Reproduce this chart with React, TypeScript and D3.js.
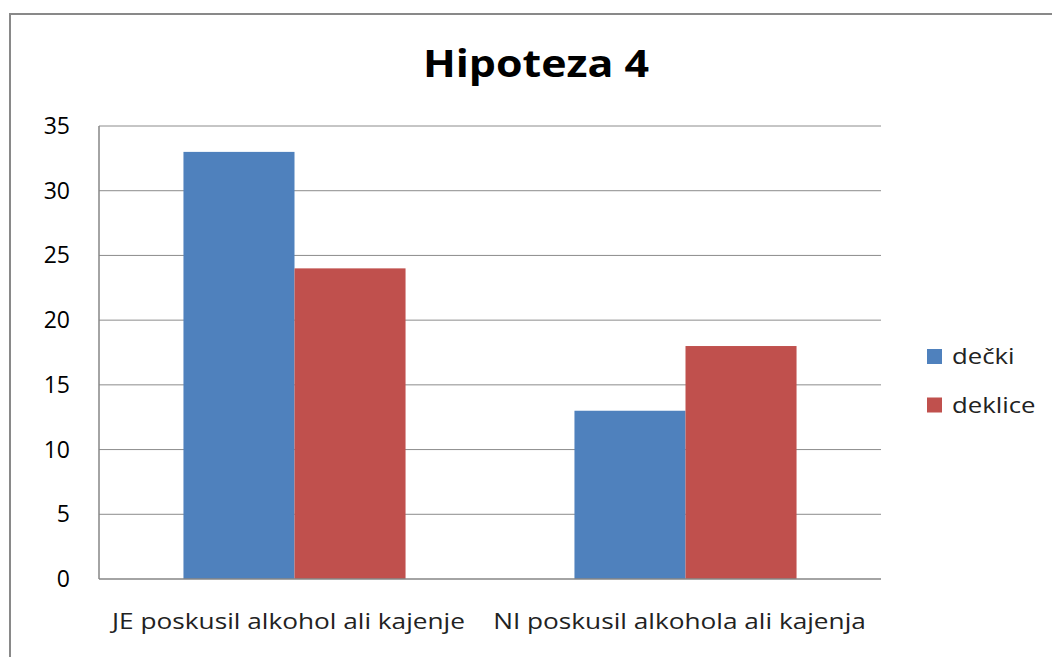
import { useEffect } from 'react'
import * as d3 from 'd3'

const categories = ['JE poskusil alkohol ali kajenje', 'NI poskusil alkohola ali kajenja']
const seriesNames = ['dečki', 'deklice']
const decki = [33, 13]
const deklice = [24, 18]
const yTicks = [0, 5, 10, 15, 20, 25, 30, 35]

const COLORS = ['#4F81BD', '#C0504D']
const FONT = '"Open Sans", sans-serif'

export default function App() {
  const width = 1052
  const height = 657
  const plot = { left: 99, right: 881, top: 126, bottom: 579 }

  useEffect(() => {
    document.body.style.margin = '0'
  }, [])

  const x0 = d3.scaleBand<string>().domain(categories).range([plot.left, plot.right]).padding(0)
  const gap = x0.bandwidth() * 0.216
  const x1 = d3
    .scaleBand<string>()
    .domain(seriesNames)
    .range([gap, x0.bandwidth() - gap])
    .padding(0)
  const y = d3.scaleLinear().domain([0, 35]).range([plot.bottom, plot.top])

  const values = [decki, deklice]

  return (
    <svg width={width} height={height} style={{ display: 'block', background: '#fff' }}>
      <rect x={10} y={14} width={width + 20} height={height + 20} fill="#fff" stroke="#898989" strokeWidth={2} />
      <text
        transform="translate(536,77) scale(1.16,1)"
        textAnchor="middle"
        fontFamily={FONT}
        fontWeight="bold"
        fontSize={37}
        fill="#000"
      >
        Hipoteza 4
      </text>

      {yTicks.map(t => (
        <g key={`tick-${t}`}>
          {t > 0 && (
            <line x1={plot.left} x2={plot.right} y1={y(t)} y2={y(t)} stroke="#8c8c8c" strokeWidth={1} />
          )}
          <text
            x={70}
            y={y(t) + 8}
            textAnchor="end"
            fontFamily={FONT}
            fontSize={23}
            fill="#000"
          >
            {t}
          </text>
        </g>
      ))}

      {categories.map((c, ci) => (
        <g key={c} transform={`translate(${x0(c)},0)`}>
          {seriesNames.map((s, si) => (
            <rect
              key={s}
              x={x1(s)}
              y={y(values[si][ci])}
              width={x1.bandwidth()}
              height={y(0) - y(values[si][ci])}
              fill={COLORS[si]}
            />
          ))}
          <text
            transform={`translate(${x0.bandwidth() / 2 - 6},629) scale(1.22,1)`}
            textAnchor="middle"
            fontFamily={FONT}
            fontSize={21.5}
            fill="#222"
          >
            {c}
          </text>
        </g>
      ))}

      <line x1={plot.left} x2={plot.left} y1={plot.top} y2={plot.bottom} stroke="#868686" strokeWidth={1.5} />
      <line x1={plot.left} x2={plot.right} y1={plot.bottom} y2={plot.bottom} stroke="#868686" strokeWidth={1.5} />

      {seriesNames.map((s, i) => (
        <g key={`legend-${s}`} transform={`translate(927,${349 + i * 48.5})`}>
          <rect width={15} height={15} fill={COLORS[i]} />
          <text transform="translate(25,15) scale(1.17,1)" fontFamily={FONT} fontSize={22} fill="#222">
            {s}
          </text>
        </g>
      ))}
    </svg>
  )
}
